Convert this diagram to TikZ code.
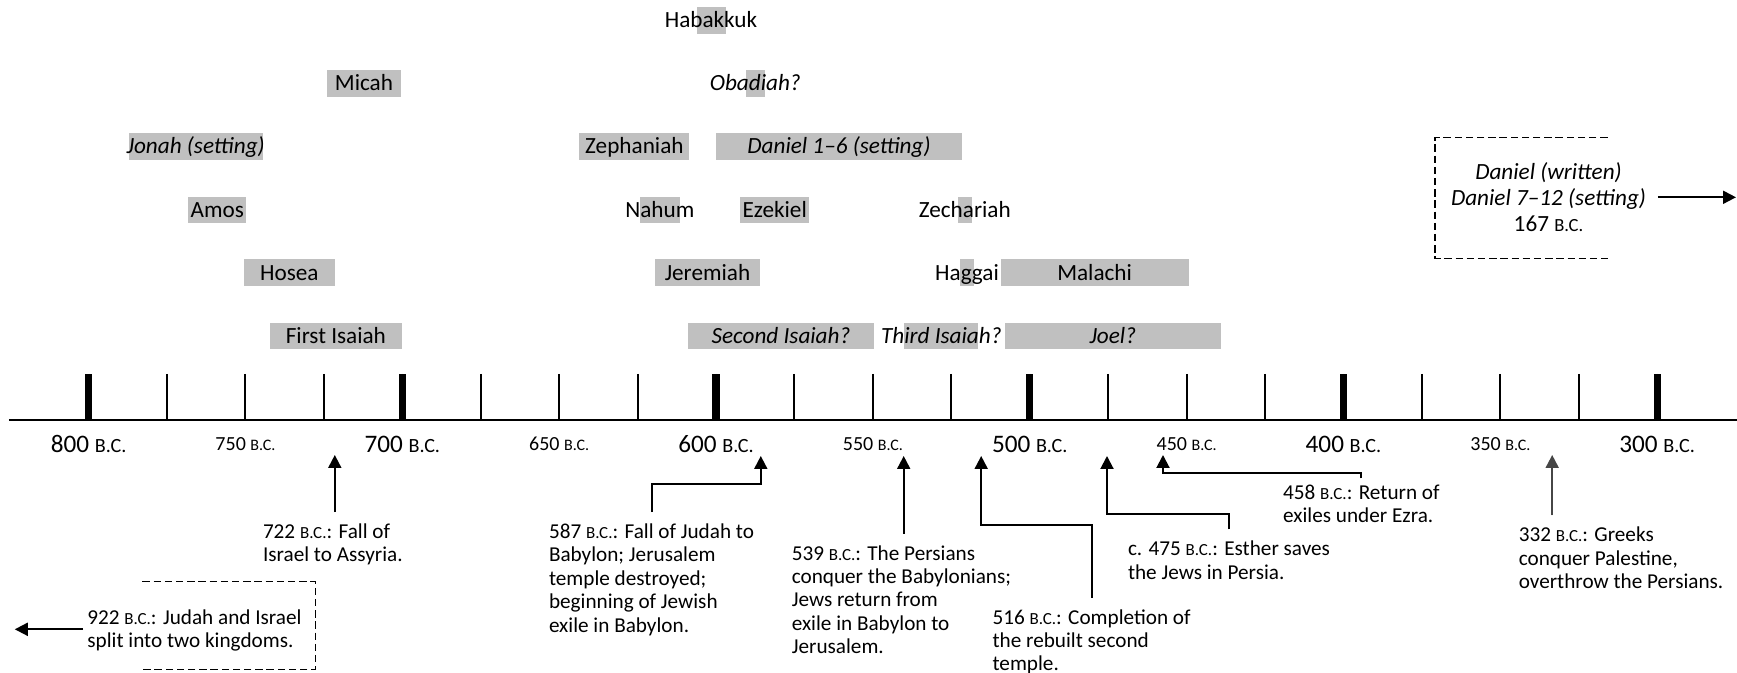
\documentclass[tikz,border=0pt]{standalone}
\usepackage{fontspec}
\setmainfont{Carlito}
\usetikzlibrary{arrows.meta,positioning}
\definecolor{barGray}{RGB}{192,192,192}
\definecolor{arrGray}{RGB}{70,70,70}
\newcommand{\bc}{\scalebox{0.8}{B.C.}}
\tikzset{
    every node/.append style={align=center,inner sep=0pt},
    bar/.style={rectangle,fill=barGray,minimum height=13.4pt,inner sep=0pt},
    pname/.style={font=\fontsize{11.6}{12.9}\selectfont,text height=9.5pt,text depth=2pt},
    pital/.style={pname,font=\fontsize{11.6}{12.9}\selectfont\itshape},
    event/.style={align=left,anchor=north west,font=\fontsize{10.6}{11.7}\selectfont},
    yrmaj/.style={font=\fontsize{12.6}{14}\selectfont},
    yrmin/.style={font=\fontsize{10}{12}\selectfont},
    arr/.style={-{Triangle[length=6.5pt,width=6.5pt]},line width=1pt},
    evarr/.style={arr,shorten <=5.6pt},
    frame/.style={line width=0.6pt,dash pattern=on 3.7pt off 1.9pt}
}

\begin{document}
\begin{tikzpicture}[x=0.5pt,y=-0.5pt]
    \useasboundingbox (0,0) rectangle (1737,673);

    % time axis
    \draw[line width=1.1pt] (8.9,420) -- (1737,420);
    \foreach \i in {0,...,20}
        \draw[line width=1pt] (88.6+78.43*\i,374) -- (88.6+78.43*\i,420);
    \foreach \i in {0,4,...,20}
        \fill (88.6+78.43*\i-3.7,374) rectangle (88.6+78.43*\i+3.7,420);
    \foreach \yr [count=\k from 0] in {800,750,...,300} {
        \ifodd\k
            \node[yrmin] (yr\yr) at (88.6+156.86*\k,444) {\yr~\bc};
        \else
            \node[yrmaj] (yr\yr) at (88.6+156.86*\k,444) {\yr~\bc};
        \fi
    }

    % prophets
    \node[bar,minimum width=14.5pt] (habakkukBar) at (711,20.5) {};
    \node[pname] (habakkuk) at (habakkukBar) {Habakkuk};

    \node[bar,minimum width=37.1pt] (micahBar) at (364,83.3) {};
    \node[pname] (micah) at (micahBar) {Micah};
    \node[bar,minimum width=9.25pt] (obadiahBar) at (755.3,83.3) {};
    \node[pital] (obadiah) at (obadiahBar) {Obadiah?};

    \node[bar,minimum width=67pt] (jonahBar) at (195.7,146.5) {};
    \node[pital] (jonah) at (jonahBar) {Jonah (setting)};
    \node[bar,minimum width=55pt] (zephaniahBar) at (634.4,146.5) {};
    \node[pname] (zephaniah) at (zephaniahBar) {Zephaniah};
    \node[bar,minimum width=123pt] (danielEarlyBar) at (839,146.5) {};
    \node[pital] (danielEarly) at (danielEarlyBar) {Daniel 1--6 (setting)};

    \node[bar,minimum width=29pt] (amosBar) at (217.3,210) {};
    \node[pname] (amos) at (amosBar) {Amos};
    \node[bar,minimum width=20.25pt] (nahumBar) at (659.8,210) {};
    \node[pname] (nahum) at (nahumBar) {Nahum};
    \node[bar,minimum width=34.6pt] (ezekielBar) at (774.7,210) {};
    \node[pname] (ezekiel) at (ezekielBar) {Ezekiel};
    \node[bar,minimum width=7.25pt] (zechariahBar) at (964.8,210) {};
    \node[pname] (zechariah) at (zechariahBar) {Zechariah};

    \node[bar,minimum width=45.5pt] (hoseaBar) at (289.3,272.7) {};
    \node[pname] (hosea) at (hoseaBar) {Hosea};
    \node[bar,minimum width=52.8pt] (jeremiahBar) at (707.5,272.7) {};
    \node[pname] (jeremiah) at (jeremiahBar) {Jeremiah};
    \node[bar,minimum width=7pt] (haggaiBar) at (967,272.7) {};
    \node[pname] (haggai) at (haggaiBar) {Haggai};
    \node[bar,minimum width=94.1pt] (malachiBar) at (1094.6,272.7) {};
    \node[pname] (malachi) at (malachiBar) {Malachi};

    \node[bar,minimum width=65.8pt] (firstIsaiahBar) at (335.9,336) {};
    \node[pname] (firstIsaiah) at (firstIsaiahBar) {First Isaiah};
    \node[bar,minimum width=93pt] (secondIsaiahBar) at (781,336) {};
    \node[pital] (secondIsaiah) at (secondIsaiahBar) {Second Isaiah?};
    \node[bar,minimum width=37pt] (thirdIsaiahBar) at (941.4,336) {};
    \node[pital] (thirdIsaiah) at (thirdIsaiahBar) {Third Isaiah?};
    \node[bar,minimum width=108pt] (joelBar) at (1112.8,336) {};
    \node[pital] (joel) at (joelBar) {Joel?};

    % Daniel, written later
    \draw[frame] (1607.5,137.7) -- (1435,137.7) -- (1435,258.3) -- (1607.5,258.3);
    \node[font=\fontsize{11.6}{12.9}\selectfont] (danielLate) at (1548.5,197.3)
        {{\itshape Daniel (written)}\\{\itshape Daniel 7--12 (setting)}\\167~\bc};
    \coordinate (danEnd) at (1736,197.3);
    \draw[arr,shorten <=5.8pt] (danielLate.east |- danEnd) -- (danEnd);

    % events
    \draw[frame] (142.4,581.7) -- (315.5,581.7) -- (315.5,669.3) -- (142.4,669.3);
    \node[event] (ev922) at (87,608.9) {922~\bc: Judah and Israel\\split into two kingdoms.};
    \coordinate (splitEnd) at (14.8,629.3);
    \draw[arr,shorten <=1.9pt] (ev922.west |- splitEnd) -- (splitEnd);

    \node[event] (ev722) at (262.6,523.3) {722~\bc: Fall of\\Israel to Assyria.};
    \node[event] (ev587) at (548.6,523.3) {587~\bc: Fall of Judah to\\Babylon; Jerusalem\\temple destroyed;\\beginning of Jewish\\exile in Babylon.};
    \node[event] (ev539) at (791.4,544.9) {539~\bc: The Persians\\conquer the Babylonians;\\Jews return from\\exile in Babylon to\\Jerusalem.};
    \node[event] (ev516) at (992.2,608.9) {516~\bc: Completion of\\the rebuilt second\\temple.};
    \node[event] (ev475) at (1127.6,540.6) {c. 475~\bc: Esther saves\\the Jews in Persia.};
    \node[event] (ev458) at (1282.8,484.3) {458~\bc: Return of\\exiles under Ezra.};
    \node[event] (ev332) at (1518.4,526.6) {332~\bc: Greeks\\conquer Palestine,\\overthrow the Persians.};

    \coordinate (t722) at (334.8,455);
    \coordinate (k587) at (760.8,484);
    \coordinate (t587) at (760.8,456);
    \coordinate (t539) at (903.7,456);
    \coordinate (k516) at (981.2,525);
    \coordinate (t516) at (981.2,456);
    \coordinate (k475) at (1107,514);
    \coordinate (t475) at (1107,456);
    \coordinate (k458) at (1163,472.7);
    \coordinate (t458) at (1163,455);
    \coordinate (t332) at (1552.2,455);

    \draw[evarr] (ev722.north -| t722) -- (t722);
    \draw[evarr] (ev587.north) |- (k587) -- (t587);
    \draw[evarr] (ev539.north -| t539) -- (t539);
    \draw[evarr] (ev516.north) |- (k516) -- (t516);
    \draw[evarr] (ev475.north) |- (k475) -- (t475);
    \draw[evarr,shorten <=3pt] (ev458.north) |- (k458) -- (t458);
    \draw[evarr,draw=arrGray,fill=arrGray] (ev332.north -| t332) -- (t332);
\end{tikzpicture}
\end{document}
